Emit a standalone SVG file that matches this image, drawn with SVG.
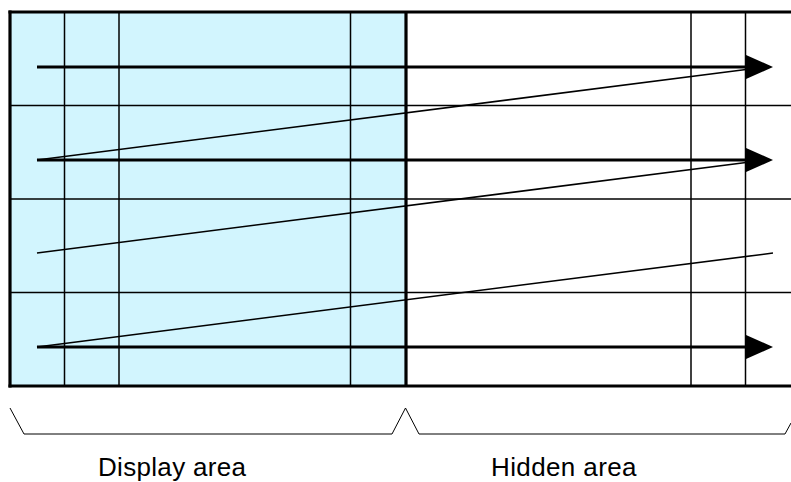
<svg xmlns="http://www.w3.org/2000/svg" width="791" height="482" viewBox="0 0 791 482">
<style>
.grid{stroke:#000;stroke-width:1.5;fill:none}
.frame{stroke:#000;stroke-width:3.2;fill:none}
.arrow{stroke:#000;stroke-width:3.2;fill:none}
.diag{stroke:#000;stroke-width:1.5;fill:none}
.brace{stroke:#000;stroke-width:1;fill:none}
.head{fill:#000}
.label{font-family:"Liberation Sans",Arial,sans-serif;font-size:26px;fill:#000}
</style>
<rect width="791" height="482" fill="#fff"/>
<g id="display-area">
<rect x="10" y="12" width="396" height="374" fill="#D2F5FE"/>
</g>
<g id="grid">
<line class="grid" x1="10" y1="105.5" x2="791" y2="105.5"/>
<line class="grid" x1="10" y1="199" x2="791" y2="199"/>
<line class="grid" x1="10" y1="292.5" x2="791" y2="292.5"/>
<line class="grid" x1="64.5" y1="12" x2="64.5" y2="386"/>
<line class="grid" x1="119" y1="12" x2="119" y2="386"/>
<line class="grid" x1="350.5" y1="12" x2="350.5" y2="386"/>
<line class="grid" x1="691" y1="12" x2="691" y2="386"/>
<line class="grid" x1="745.5" y1="12" x2="745.5" y2="386"/>
</g>
<g id="frame">
<line class="frame" x1="8.5" y1="12" x2="791" y2="12"/>
<line class="frame" x1="8.5" y1="386" x2="791" y2="386"/>
<line class="frame" x1="10" y1="10.5" x2="10" y2="387.5"/>
<line class="frame" x1="406" y1="12" x2="406" y2="386"/>
</g>
<g id="connectors">
<line class="arrow" x1="37" y1="67" x2="747" y2="67"/>
<polygon class="head" points="746,55 773,67 746,79"/>
<line class="arrow" x1="37" y1="160" x2="747" y2="160"/>
<polygon class="head" points="746,148 773,160 746,172"/>
<line class="arrow" x1="37" y1="347" x2="747" y2="347"/>
<polygon class="head" points="746,335 773,347 746,359"/>
<line class="diag" x1="746" y1="69.5" x2="37" y2="160"/>
<line class="diag" x1="37" y1="253" x2="746" y2="162.5"/>
<line class="diag" x1="37" y1="347" x2="773" y2="253"/>
</g>
<g id="braces">
<polyline class="brace" points="10,408 24,434 392,434 405.5,408 419,434 785,434 791,423"/>
</g>
<g id="labels">
<text class="label" id="label-display" x="98" y="475.5" textLength="148" lengthAdjust="spacing">Display area</text>
<text class="label" id="label-hidden" x="491" y="475.5" textLength="145.5" lengthAdjust="spacing">Hidden area</text>
</g>
</svg>
